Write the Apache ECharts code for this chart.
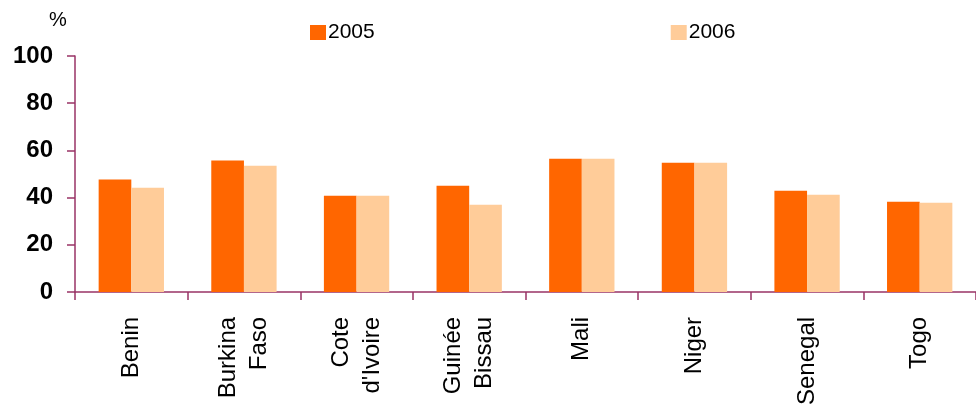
<!DOCTYPE html>
<html>
<head>
<meta charset="utf-8">
<script src="https://cdn.jsdelivr.net/npm/echarts@6/dist/echarts.min.js"></script>
<style>
html,body{margin:0;padding:0;background:#fff;}
#chart{width:976px;height:408px;}
</style>
</head>
<body>
<div id="chart"></div>
<script>
var categories = ['Benin', 'Burkina\nFaso', 'Cote\nd\'Ivoire', 'Guinée\nBissau', 'Mali', 'Niger', 'Senegal', 'Togo'];
var values2005 = [47.6, 55.7, 40.8, 45.0, 56.5, 54.8, 42.9, 38.2];
var values2006 = [44.2, 53.5, 40.8, 37.0, 56.5, 54.8, 41.2, 37.8];
var yTicks = [0, 20, 40, 60, 80, 100];

var FONT = '"Liberation Sans", Arial, sans-serif';
var AXIS = '#993366';
var chart = echarts.init(document.getElementById('chart'), null, {renderer: 'canvas'});
chart.setOption({
  animation: false,
  title: {
    text: '%', left: 44, top: 5,
    textStyle: {fontFamily: FONT, fontSize: 20, fontWeight: 'normal', color: '#000'}
  },
  legend: {
    data: ['2005', '2006'],
    left: 305, top: 17,
    icon: 'rect', itemWidth: 16, itemHeight: 15, itemGap: 296,
    textStyle: {fontFamily: FONT, fontSize: 21, color: '#000', padding: [0, 0, 0, -3]}
  },
  grid: {left: 75, right: -9, top: 56, bottom: 116, containLabel: false},
  xAxis: {
    type: 'category',
    data: categories,
    axisLine: {lineStyle: {color: AXIS, width: 1.5}},
    axisTick: {show: true, length: 8, lineStyle: {color: AXIS, width: 1.5}},
    axisLabel: {
      rotate: 90, margin: 25, interval: 0,
      fontFamily: FONT, fontSize: 24, color: '#000', lineHeight: 31
    }
  },
  yAxis: {
    type: 'value', min: 0, max: 100, interval: 20,
    splitLine: {show: false},
    axisLine: {show: true, lineStyle: {color: AXIS, width: 1.5}},
    axisTick: {show: true, length: 8, lineStyle: {color: AXIS, width: 1.5}},
    axisLabel: {
      margin: 22, fontFamily: FONT, fontSize: 24, fontWeight: 'bold', color: '#000',
      formatter: function (v) { return yTicks.indexOf(v) >= 0 ? String(v) : ''; }
    }
  },
  series: [
    {name: '2005', type: 'bar', data: values2005, barGap: 0, barCategoryGap: '42%',
     itemStyle: {color: '#FF6600'}},
    {name: '2006', type: 'bar', data: values2006, barGap: 0, barCategoryGap: '42%',
     itemStyle: {color: '#FFCC99'}}
  ]
});
</script>
</body>
</html>
